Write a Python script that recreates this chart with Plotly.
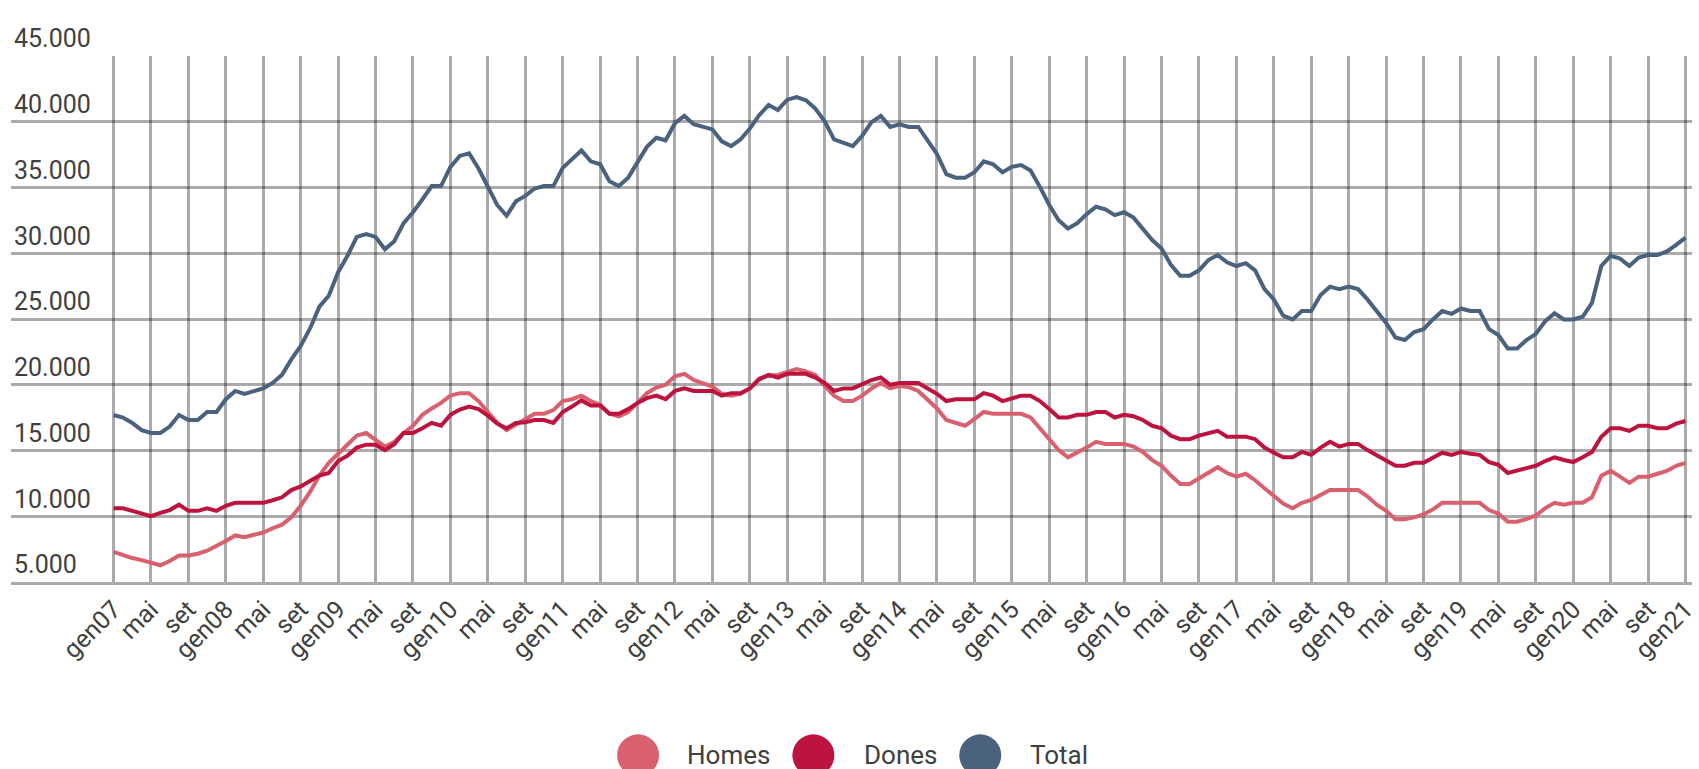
import plotly.graph_objects as go

# ---------------- data ----------------
MESOS = ["gen", "feb", "mar", "abr", "mai", "jun", "jul", "ago", "set", "oct", "nov", "des"]
CATEGORIES = [f"{m}{y:02d}" for y in range(7, 21) for m in MESOS] + ["gen21"]

TICK_LABELS = [
    "gen07", "mai", "set", "gen08", "mai", "set", "gen09", "mai", "set",
    "gen10", "mai", "set", "gen11", "mai", "set", "gen12", "mai", "set",
    "gen13", "mai", "set", "gen14", "mai", "set", "gen15", "mai", "set",
    "gen16", "mai", "set", "gen17", "mai", "set", "gen18", "mai", "set",
    "gen19", "mai", "set", "gen20", "mai", "set", "gen21",
]

HOMES = [
    7290, 7020, 6820, 6660, 6460, 6270, 6600, 7020, 7020, 7150, 7380, 7710,
    8120, 8540, 8400, 8590, 8760, 9090, 9360, 9920, 10800, 11850, 13090, 14060,
    14750, 15440, 16130, 16330, 15860, 15300, 15650, 16330, 16880, 17710, 18200, 18620,
    19170, 19360, 19360, 18760, 17930, 17100, 16550, 16960, 17380, 17790, 17790, 18070,
    18760, 18900, 19170, 18760, 18480, 17790, 17600, 17930, 18620, 19360, 19780, 20000,
    20640, 20830, 20360, 20140, 19860, 19310, 19170, 19310, 19720, 20470, 20690, 20750,
    20970, 21190, 21020, 20750, 19920, 19170, 18760, 18760, 19170, 19720, 20140, 19720,
    19920, 19810, 19530, 18900, 18200, 17320, 17100, 16880, 17380, 17930, 17790, 17790,
    17790, 17790, 17510, 16690, 15860, 15030, 14480, 14830, 15220, 15660, 15500, 15500,
    15500, 15300, 14890, 14270, 13840, 13090, 12460, 12460, 12900, 13290, 13730, 13290,
    13010, 13230, 12740, 12130, 11520, 10970, 10610, 11020, 11240, 11630, 11990, 11990,
    11990, 11990, 11520, 10880, 10410, 9780, 9780, 9920, 10140, 10520, 11020, 11020,
    11020, 11020, 11020, 10470, 10190, 9590, 9590, 9780, 10060, 10610, 11020, 10880,
    11020, 11020, 11440, 13090, 13450, 13010, 12540, 13010, 13010, 13230, 13450, 13840,
    14060,
]

DONES = [
    10610, 10610, 10410, 10190, 10000, 10250, 10470, 10880, 10410, 10410, 10610, 10410,
    10800, 11020, 11020, 11020, 11020, 11220, 11440, 11990, 12270, 12680, 13090, 13290,
    14200, 14610, 15220, 15440, 15440, 15030, 15470, 16330, 16330, 16690, 17100, 16880,
    17710, 18120, 18340, 18150, 17650, 17040, 16690, 17100, 17150, 17320, 17320, 17100,
    17930, 18340, 18810, 18430, 18430, 17790, 17790, 18150, 18620, 18980, 19170, 18900,
    19530, 19720, 19530, 19530, 19530, 19170, 19360, 19360, 19720, 20410, 20750, 20550,
    20830, 20830, 20830, 20550, 20140, 19530, 19720, 19720, 20000, 20360, 20550, 20000,
    20140, 20140, 20140, 19720, 19310, 18760, 18900, 18900, 18900, 19360, 19170, 18760,
    18980, 19170, 19170, 18760, 18150, 17510, 17510, 17710, 17710, 17930, 17930, 17510,
    17710, 17600, 17320, 16880, 16690, 16130, 15860, 15860, 16130, 16330, 16490, 16050,
    16050, 16050, 15860, 15220, 14830, 14480, 14480, 14890, 14670, 15220, 15660, 15300,
    15500, 15500, 15030, 14610, 14200, 13840, 13840, 14060, 14060, 14480, 14830, 14670,
    14890, 14750, 14670, 14120, 13920, 13290, 13450, 13650, 13840, 14200, 14480, 14280,
    14120, 14480, 14890, 16050, 16690, 16690, 16490, 16880, 16880, 16690, 16690, 17040,
    17240,
]

TOTAL = [
    17700, 17500, 17100, 16550, 16330, 16330, 16820, 17700, 17320, 17320, 17930, 17930,
    18900, 19530, 19310, 19530, 19720, 20140, 20750, 21930, 22960, 24280, 25940, 26770,
    28560, 29810, 31240, 31460, 31240, 30300, 30910, 32290, 33120, 34090, 35110, 35110,
    36570, 37400, 37600, 36440, 35050, 33670, 32850, 33950, 34360, 34920, 35110, 35110,
    36490, 37130, 37820, 36990, 36770, 35470, 35110, 35750, 36850, 38090, 38780, 38590,
    39890, 40440, 39810, 39610, 39420, 38510, 38150, 38650, 39480, 40500, 41270, 40900,
    41680, 41880, 41630, 41000, 40030, 38650, 38430, 38150, 38920, 39970, 40440, 39610,
    39810, 39610, 39610, 38510, 37540, 36020, 35750, 35750, 36160, 36990, 36770, 36160,
    36570, 36710, 36300, 35050, 33670, 32510, 31880, 32290, 32980, 33540, 33340, 32900,
    33120, 32710, 31880, 31000, 30360, 29120, 28290, 28290, 28700, 29480, 29860, 29310,
    29030, 29250, 28700, 27270, 26490, 25250, 24970, 25610, 25610, 26820, 27460, 27270,
    27460, 27270, 26490, 25610, 24700, 23590, 23400, 24010, 24230, 24970, 25610, 25390,
    25800, 25610, 25610, 24230, 23780, 22760, 22760, 23400, 23870, 24830, 25440, 24970,
    24970, 25170, 26220, 29030, 29810, 29590, 29030, 29670, 29860, 29860, 30140, 30640,
    31190,
]

SERIES_NAMES = ["Homes", "Dones", "Total"]
SERIES_VALUES = [HOMES, DONES, TOTAL]
SERIES_COLORS = ["#D9606E", "#BC143E", "#4A627E"]

# ---------------- layout constants ----------------
W, H = 1699, 769
ML, MR, MT, MB = 11, 0, 56, 187
PW, PH = W - ML - MR, H - MT - MB
FONT = "Roboto, Arial, sans-serif"
TEXT_COLOR = "#404040"
GRID_COLOR = "rgba(0,0,0,0.33)"


def paper_x(px):
    return (px - ML) / PW


def paper_y(py):
    return (H - MB - py) / PH


fig = go.Figure()
for name, vals, color in zip(SERIES_NAMES, SERIES_VALUES, SERIES_COLORS):
    fig.add_trace(go.Scatter(
        x=CATEGORIES, y=vals, name=name, mode="lines",
        line=dict(color=color, width=4),
        showlegend=False,
    ))

# custom legend with large circle symbols (as in the reference)
LEGEND_CIRCLE_X = [640.7, 816.7, 984.3]
LEGEND_TEXT_X = [688, 865.7, 1032.7]
LEGEND_Y = 755.3
shapes = []
annotations = []
for name, color, cx, tx in zip(SERIES_NAMES, SERIES_COLORS, LEGEND_CIRCLE_X, LEGEND_TEXT_X):
    shapes.append(dict(
        type="circle", xref="paper", yref="paper",
        xsizemode="pixel", ysizemode="pixel",
        xanchor=paper_x(cx), yanchor=paper_y(LEGEND_Y),
        x0=-21, x1=21, y0=-21, y1=21,
        fillcolor=color, line=dict(width=0), layer="above",
    ))
    annotations.append(dict(
        text=name, xref="paper", yref="paper",
        x=paper_x(tx), y=paper_y(LEGEND_Y),
        xanchor="left", yanchor="middle", showarrow=False,
        font=dict(family=FONT, size=26, color=TEXT_COLOR),
    ))

n = len(CATEGORIES)
fig.update_layout(
    width=W, height=H,
    margin=dict(l=ML, r=MR, t=MT, b=MB, pad=0),
    paper_bgcolor="white", plot_bgcolor="white",
    separators=",.",
    font=dict(family=FONT, size=25, color=TEXT_COLOR),
    showlegend=False,
    shapes=shapes,
    annotations=annotations,
    xaxis=dict(
        type="category",
        range=[-10.96, n - 1 + 0.69],
        tickmode="array",
        tickvals=CATEGORIES[::4],
        ticktext=TICK_LABELS,
        tickangle=-45,
        showgrid=True, gridcolor=GRID_COLOR, gridwidth=2.5,
        showline=True, linecolor=GRID_COLOR, linewidth=2.5,
        ticks="", zeroline=False,
        tickfont=dict(family=FONT, size=25, color=TEXT_COLOR),
    ),
    yaxis=dict(
        range=[5000, 45000],
        tick0=5000, dtick=5000,
        tickformat=",",
        showgrid=True, gridcolor=GRID_COLOR, gridwidth=2.5,
        zeroline=False, showline=False,
        ticks="",
        ticklabelposition="inside top",
        ticklabeloverflow="allow",
        tickfont=dict(family=FONT, size=25, color=TEXT_COLOR),
    ),
)

fig.write_html(
    "out.html",
    config={"displayModeBar": False},
    post_script="document.body.style.margin='0';document.body.style.overflow='hidden';",
)
